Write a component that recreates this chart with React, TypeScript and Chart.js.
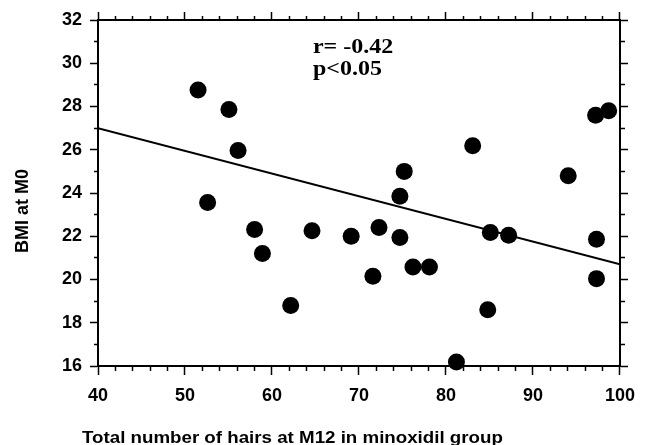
import React, { useEffect, useRef } from 'react';
import { Chart, registerables } from 'chart.js';

Chart.register(...registerables);

// ---- data ----
const hairsX = [51.5, 55.05, 56.1, 52.6, 58.0, 58.9, 62.15, 64.6, 69.1, 71.6, 72.3, 74.7, 75.2, 74.7, 76.2, 78.1, 81.2, 83.07, 84.8, 85.1, 87.2, 94.05, 97.2, 98.7, 97.3, 97.3];
const bmiY = [28.76, 27.86, 25.97, 23.56, 22.31, 21.2, 18.8, 22.25, 22.0, 20.15, 22.4, 23.85, 25.0, 21.94, 20.58, 20.58, 16.18, 26.18, 18.6, 22.17, 22.05, 24.8, 27.6, 27.8, 21.86, 20.04];
const fitX = [40, 100];
const fitY = [27.0, 20.7];

const X_MIN = 40, X_MAX = 100, X_MAJOR = 10, X_MINOR = 2;
const Y_MIN = 16, Y_MAX = 32, Y_MAJOR = 2, Y_MINOR = 1;

const statLines = ['r= -0.42', 'p<0.05'];
const statX = 64.7;
const statY = [30.47, 29.46];

const xTitle = 'Total number of hairs at M12 in minoxidil group';
const yTitle = 'BMI at M0';

const isMajor = (v: number, step: number) => Math.abs(v / step - Math.round(v / step)) < 1e-6;

const textPlugin = {
  id: 'texts',
  afterDraw(chart: any) {
    const { ctx, scales, chartArea } = chart;
    const sx = scales.x, sy = scales.y;
    ctx.save();
    ctx.fillStyle = '#000';
    ctx.font = 'bold 20px "Liberation Serif"';
    ctx.textBaseline = 'alphabetic';
    ctx.textAlign = 'left';
    statLines.forEach((t, i) => {
      const px = sx.getPixelForValue(statX);
      const py = sy.getPixelForValue(statY[i]);
      ctx.save();
      ctx.translate(px, py);
      ctx.scale(1.2, 1);
      ctx.fillText(t, 0, 0);
      ctx.restore();
    });
    ctx.font = 'bold 16px "Liberation Sans"';
    ctx.save();
    ctx.translate(chartArea.left - 16, chart.height - 2);
    ctx.scale(1.17, 1);
    ctx.fillText(xTitle, 0, 0);
    ctx.restore();
    ctx.font = 'bold 18px "Liberation Sans"';
    ctx.save();
    ctx.translate(23, (chartArea.top + chartArea.bottom) / 2 + 18);
    ctx.rotate(-Math.PI / 2);
    ctx.textAlign = 'center';
    ctx.textBaseline = 'middle';
    ctx.fillText(yTitle, 0, 0);
    ctx.restore();
    ctx.restore();
  },
};

const tickFont = { family: '"Liberation Sans"', size: 18, weight: 'bold' as const };

export default function App() {
  const ref = useRef<HTMLCanvasElement>(null);
  useEffect(() => {
    document.body.style.margin = '0';
    const canvas = ref.current!;
    const gridBase = {
      drawOnChartArea: false,
      drawTicks: true,
      tickLength: 9,
      tickWidth: 1.5,
      tickColor: '#000',
    };
    const dashFromAxis = (step: number) => (c: any) => (c.tick && isMajor(c.tick.value, step) ? [] : [4, 100]);
    const dashFromOuter = (step: number) => (c: any) => (c.tick && isMajor(c.tick.value, step) ? [] : [4, 4]);
    const offsetOuter = (step: number) => (c: any) => (c.tick && isMajor(c.tick.value, step) ? 0 : 4);
    const border = { display: true, color: '#000', width: 2 };
    const buildTicks = (min: number, max: number, step: number) => (s: any) => {
      const t = [];
      for (let v = min; v <= max + 1e-9; v += step) t.push({ value: v });
      s.ticks = t;
    };

    const chart = new Chart(canvas, {
      type: 'scatter',
      data: {
        datasets: [
          {
            data: hairsX.map((x, i) => ({ x, y: bmiY[i] })),
            backgroundColor: '#000',
            borderColor: '#000',
            pointRadius: 8.5,
            pointHoverRadius: 8.5,
            borderWidth: 0,
            clip: false as any,
          },
          {
            data: fitX.map((x, i) => ({ x, y: fitY[i] })),
            showLine: true,
            borderColor: '#000',
            borderWidth: 2,
            pointRadius: 0,
          },
        ],
      },
      options: {
        responsive: false,
        animation: false,
        layout: { padding: 0 },
        plugins: { legend: { display: false }, tooltip: { enabled: false }, title: { display: false } },
        scales: {
          x: {
            type: 'linear',
            position: 'bottom',
            min: X_MIN,
            max: X_MAX,
            afterFit: (s: any) => { s.height = 79; },
            afterBuildTicks: buildTicks(X_MIN, X_MAX, X_MINOR),
            ticks: {
              autoSkip: false,
              maxRotation: 0,
              padding: 10,
              color: '#000',
              font: tickFont,
              callback: (v: any) => (isMajor(Number(v), X_MAJOR) ? String(v) : ''),
            },
            grid: { ...gridBase, tickBorderDash: dashFromAxis(X_MAJOR) } as any,
            border,
          },
          x2: {
            type: 'linear',
            position: 'top',
            min: X_MIN,
            max: X_MAX,
            afterFit: (s: any) => { s.height = 20; },
            afterBuildTicks: buildTicks(X_MIN, X_MAX, X_MINOR),
            ticks: { display: false, autoSkip: false },
            grid: { ...gridBase, tickLength: 8, tickBorderDash: dashFromOuter(X_MAJOR), tickBorderDashOffset: offsetOuter(X_MAJOR) } as any,
            border,
          },
          y: {
            type: 'linear',
            position: 'left',
            min: Y_MIN,
            max: Y_MAX,
            afterFit: (s: any) => { s.width = 98; },
            afterBuildTicks: buildTicks(Y_MIN, Y_MAX, Y_MINOR),
            ticks: {
              autoSkip: false,
              padding: 8,
              color: '#000',
              font: tickFont,
              callback: (v: any) => (isMajor(Number(v), Y_MAJOR) ? String(v) : ''),
            },
            grid: { ...gridBase, tickLength: 8, tickBorderDash: dashFromOuter(Y_MAJOR), tickBorderDashOffset: offsetOuter(Y_MAJOR) } as any,
            border,
          },
          y2: {
            type: 'linear',
            position: 'right',
            min: Y_MIN,
            max: Y_MAX,
            afterFit: (s: any) => { s.width = 25; },
            afterBuildTicks: buildTicks(Y_MIN, Y_MAX, Y_MINOR),
            ticks: { display: false, autoSkip: false },
            grid: { ...gridBase, tickLength: 8, tickBorderDash: dashFromAxis(Y_MAJOR) } as any,
            border,
          },
        },
      } as any,
      plugins: [textPlugin],
    });
    return () => chart.destroy();
  }, []);
  return <canvas ref={ref} width={645} height={445} style={{ display: 'block', width: 645, height: 445 }} />;
}
